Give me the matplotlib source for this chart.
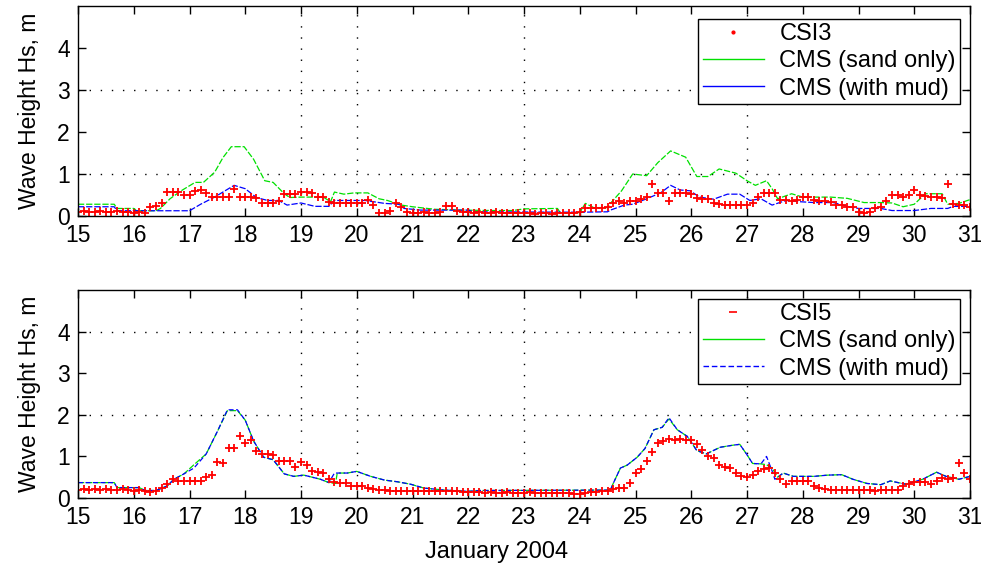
import numpy as np
import matplotlib
matplotlib.use("Agg")
import matplotlib.pyplot as plt
from matplotlib.lines import Line2D

plt.rcParams['font.family'] = ['Liberation Sans', 'DejaVu Sans']

# ---------------- data ----------------
obs_days = np.round(np.arange(15.0, 31.05, 0.1), 1)

csi3 = [0.1, 0.12, 0.1, 0.1, 0.12, 0.1, 0.1, 0.12, 0.1, 0.1,
        0.08, 0.1, 0.08, 0.22, 0.24, 0.3, 0.57, 0.57, 0.57, 0.5,
        0.5, 0.6, 0.62, 0.55, 0.45, 0.45, 0.45, 0.45, 0.65, 0.45,
        0.45, 0.45, 0.42, 0.32, 0.32, 0.32, 0.35, 0.52, 0.52, 0.52,
        0.57, 0.57, 0.55, 0.45, 0.45, 0.33, 0.32, 0.32, 0.3, 0.32,
        0.32, 0.3, 0.39, 0.25, 0.08, 0.08, 0.12, 0.32, 0.22, 0.1,
        0.08, 0.08, 0.1, 0.08, 0.08, 0.1, 0.23, 0.23, 0.12, 0.1,
        0.1, 0.08, 0.1, 0.08, 0.08, 0.1, 0.07, 0.08, 0.07, 0.08,
        0.08, 0.07, 0.05, 0.06, 0.08, 0.05, 0.07, 0.06, 0.08, 0.07,
        0.1, 0.18, 0.2, 0.2, 0.2, 0.22, 0.32, 0.35, 0.32, 0.35,
        0.35, 0.4, 0.45, 0.75, 0.55, 0.55, 0.35, 0.55, 0.55, 0.55,
        0.52, 0.42, 0.4, 0.4, 0.3, 0.28, 0.26, 0.25, 0.25, 0.25,
        0.25, 0.3, 0.45, 0.55, 0.55, 0.55, 0.38, 0.38, 0.35, 0.38,
        0.45, 0.45, 0.38, 0.35, 0.35, 0.33, 0.25, 0.25, 0.22, 0.22,
        0.1, 0.08, 0.1, 0.2, 0.22, 0.35, 0.5, 0.5, 0.45, 0.5,
        0.62, 0.5, 0.48, 0.45, 0.45, 0.42, 0.75, 0.28, 0.25, 0.25,
        0.22]

csi5 = [0.2, 0.22, 0.2, 0.22, 0.2, 0.22, 0.2, 0.2, 0.22, 0.2,
        0.18, 0.2, 0.18, 0.15, 0.18, 0.25, 0.33, 0.45, 0.42, 0.41,
        0.4, 0.42, 0.42, 0.5, 0.56, 0.87, 0.83, 1.2, 1.2, 1.5,
        1.33, 1.4, 1.14, 1.06, 1.06, 1.04, 0.9, 0.9, 0.88, 0.75,
        0.87, 0.8, 0.65, 0.62, 0.6, 0.45, 0.38, 0.35, 0.35, 0.3,
        0.29, 0.28, 0.25, 0.22, 0.2, 0.2, 0.18, 0.18, 0.18, 0.18,
        0.18, 0.17, 0.18, 0.17, 0.17, 0.18, 0.17, 0.16, 0.17, 0.15,
        0.15, 0.14, 0.14, 0.13, 0.14, 0.13, 0.12, 0.14, 0.12, 0.13,
        0.12, 0.14, 0.12, 0.13, 0.12, 0.13, 0.12, 0.12, 0.13, 0.1,
        0.1, 0.12, 0.15, 0.15, 0.17, 0.18, 0.22, 0.25, 0.25, 0.37,
        0.6, 0.7, 0.9, 1.1, 1.33, 1.38, 1.41, 1.4, 1.42, 1.4,
        1.4, 1.3, 1.15, 1.02, 0.95, 0.8, 0.75, 0.72, 0.6, 0.52,
        0.5, 0.55, 0.64, 0.7, 0.73, 0.6, 0.45, 0.33, 0.4, 0.41,
        0.41, 0.4, 0.3, 0.25, 0.22, 0.2, 0.19, 0.2, 0.19, 0.19,
        0.19, 0.2, 0.19, 0.18, 0.19, 0.2, 0.19, 0.2, 0.3, 0.33,
        0.38, 0.39, 0.39, 0.33, 0.4, 0.47, 0.45, 0.47, 0.85, 0.6,
        0.45]

# top panel model (CSI3)
sand3_days = [15.0, 15.65, 15.7, 16.0, 16.05, 16.4, 16.48, 16.65, 16.85, 17.1,
              17.25, 17.45, 17.6, 17.75, 17.98, 18.15, 18.35, 18.5, 18.7, 18.8,
              19.0, 19.4, 19.53, 19.6, 19.77, 19.95, 20.2, 20.4, 20.55, 20.8,
              21.0, 21.4, 21.9, 22.45, 22.8, 23.0, 23.6, 23.65, 24.0, 24.1,
              24.25, 24.5, 24.55, 24.75, 24.95, 25.2, 25.4, 25.63, 25.9, 26.1,
              26.3, 26.5, 26.8, 27.0, 27.15, 27.35, 27.45, 27.55, 27.8, 28.0,
              28.2, 28.5, 28.8, 29.1, 29.4, 29.6, 29.8, 30.0, 30.2, 30.5,
              30.6, 30.8, 31.0]
sand3 = [0.28, 0.28, 0.18, 0.18, 0.125, 0.125, 0.18, 0.41, 0.6, 0.8,
         0.8, 1.04, 1.39, 1.65, 1.65, 1.35, 0.84, 0.8, 0.53, 0.44,
         0.45, 0.45, 0.34, 0.57, 0.52, 0.55, 0.55, 0.41, 0.37, 0.26,
         0.22, 0.16, 0.14, 0.13, 0.13, 0.17, 0.18, 0.08, 0.08, 0.3,
         0.2, 0.2, 0.3, 0.6, 1.0, 0.96, 1.27, 1.55, 1.4, 0.94,
         0.94, 1.12, 1.02, 0.84, 0.73, 0.84, 0.65, 0.41, 0.53, 0.45,
         0.45, 0.45, 0.42, 0.32, 0.32, 0.31, 0.22, 0.28, 0.53, 0.53,
         0.28, 0.3, 0.39]

mud3_days = [15.0, 15.65, 15.7, 16.5, 17.0, 17.2, 17.45, 17.7, 17.8, 18.0,
             18.2, 18.4, 18.6, 18.75, 19.0, 19.25, 19.5, 19.6, 20.15, 20.5,
             20.75, 20.85, 21.15, 22.0, 22.1, 24.0, 24.5, 24.55, 24.8, 24.95,
             25.2, 25.45, 25.63, 25.8, 25.98, 26.15, 26.4, 26.65, 26.87, 27.05,
             27.25, 27.45, 27.7, 27.95, 28.2, 28.55, 28.8, 29.0, 29.4, 29.6,
             30.0, 30.3, 30.6, 30.7, 31.0]
mud3 = [0.22, 0.22, 0.125, 0.125, 0.125, 0.28, 0.45, 0.65, 0.73, 0.65,
        0.44, 0.37, 0.37, 0.26, 0.31, 0.23, 0.23, 0.37, 0.37, 0.3,
        0.28, 0.18, 0.14, 0.14, 0.1, 0.09, 0.1, 0.14, 0.26, 0.28,
        0.41, 0.55, 0.73, 0.62, 0.6, 0.45, 0.4, 0.52, 0.52, 0.37,
        0.41, 0.26, 0.37, 0.34, 0.32, 0.32, 0.23, 0.18, 0.18, 0.13,
        0.13, 0.18, 0.18, 0.23, 0.23]

# bottom panel model (CSI5)
mud5_days = [15.0, 15.65, 15.7, 16.1, 16.2, 16.4, 16.6, 16.72, 16.9, 17.08,
             17.3, 17.5, 17.68, 17.86, 18.0, 18.15, 18.33, 18.5, 18.7, 18.87,
             19.05, 19.35, 19.5, 19.6, 19.83, 20.0, 20.25, 20.5, 20.73, 20.97,
             21.2, 21.57, 22.0, 22.2, 24.55, 24.6, 24.73, 24.85, 25.03, 25.17,
             25.33, 25.48, 25.6, 25.75, 25.93, 26.1, 26.27, 26.52, 26.75, 26.87,
             27.0, 27.1, 27.25, 27.35, 27.45, 27.5, 27.65, 27.83, 28.2, 28.45,
             28.7, 28.9, 29.15, 29.4, 29.57, 29.85, 30.15, 30.4, 30.57, 30.8,
             31.0]
mud5 = [0.37, 0.37, 0.25, 0.25, 0.18, 0.18, 0.29, 0.45, 0.58, 0.72,
        1.06, 1.6, 2.12, 2.12, 1.87, 1.37, 0.98, 0.92, 0.58, 0.52,
        0.55, 0.45, 0.37, 0.6, 0.6, 0.64, 0.52, 0.43, 0.39, 0.33,
        0.24, 0.19, 0.16, 0.18, 0.19, 0.35, 0.72, 0.79, 0.98, 1.19,
        1.64, 1.7, 1.93, 1.64, 1.48, 1.14, 1.06, 1.22, 1.27, 1.29,
        1.04, 0.83, 0.82, 1.0, 0.65, 0.45, 0.6, 0.52, 0.52, 0.55,
        0.56, 0.45, 0.35, 0.32, 0.41, 0.33, 0.45, 0.62, 0.52, 0.45,
        0.52]

sand5_days = [15.0, 15.65, 15.7, 16.1, 16.2, 16.4, 16.6, 16.72, 16.9, 17.08,
              17.3, 17.5, 17.68, 17.86, 18.0, 18.15, 18.33, 18.5, 18.7, 18.87,
              19.05, 19.35, 19.5, 19.62, 19.65, 19.83, 20.0, 20.25, 20.5, 20.73,
              20.97, 21.2, 21.57, 22.0, 22.2, 24.55, 24.6, 24.73, 24.85, 25.03,
              25.17, 25.33, 25.48, 25.6, 25.75, 25.93, 26.1, 26.27, 26.52, 26.75,
              26.87, 27.0, 27.1, 27.25, 27.35, 27.45, 27.55, 27.65, 27.83, 28.2,
              28.45, 28.7, 28.9, 29.15, 29.4, 29.57, 29.85, 30.15, 30.4, 30.57,
              30.8, 31.0]
sand5 = [0.37, 0.37, 0.25, 0.25, 0.18, 0.18, 0.29, 0.45, 0.58, 0.8,
         1.06, 1.6, 2.1, 2.1, 1.87, 1.37, 0.98, 0.92, 0.58, 0.52,
         0.55, 0.45, 0.37, 0.35, 0.6, 0.6, 0.64, 0.52, 0.43, 0.39,
         0.33, 0.24, 0.19, 0.16, 0.18, 0.19, 0.35, 0.72, 0.79, 0.98,
         1.19, 1.64, 1.7, 1.9, 1.64, 1.48, 1.14, 1.06, 1.22, 1.27,
         1.29, 1.04, 0.83, 0.82, 0.8, 0.72, 0.5, 0.6, 0.52, 0.52,
         0.55, 0.56, 0.45, 0.35, 0.32, 0.41, 0.33, 0.45, 0.62, 0.52,
         0.45, 0.52]

x_ticks = list(range(15, 32))
y_ticks = [0, 1, 2, 3, 4]

# ---------------- figure ----------------
fig = plt.figure(figsize=(9.81, 5.77), dpi=100)
ax1 = fig.add_axes([78/981, 1-216/577, 892/981, 210/577])
ax2 = fig.add_axes([78/981, 1-498/577, 892/981, 208/577])

RED, GREEN, BLUE = '#ff0000', '#00e000', '#0000ff'
LINE_STYLE = (0, (5, 1.5))

def style(ax, xgrid_show, ygrid_show):
    ax.set_xlim(15, 31)
    ax.set_ylim(0, 5)
    ax.set_xticks(x_ticks)
    ax.set_yticks(y_ticks)
    ax.tick_params(direction='in', length=6, width=1, top=True, right=True,
                   labelsize=16.5, colors='black')
    ax.tick_params(axis='x', pad=6)
    ax.tick_params(axis='y', pad=6)
    for s in ax.spines.values():
        s.set_linewidth(1.0)
        s.set_color('black')
    ax.grid(True, color='black', linestyle=(0, (1, 7)), linewidth=1.0)
    for t, gl in zip(ax.get_xticks(), ax.get_xgridlines()):
        gl.set_visible(int(round(t)) in xgrid_show)
    for t, gl in zip(ax.get_yticks(), ax.get_ygridlines()):
        gl.set_visible(int(round(t)) in ygrid_show)
    ax.set_ylabel('Wave Height Hs, m', fontsize=16.5)
    ax.yaxis.set_label_coords(-0.041, 0.5)

def legend(ax, handles, labels, top):
    leg = ax.legend(handles, labels, loc='upper right', bbox_to_anchor=(0.989, top),
                    borderaxespad=0, fontsize=17, fancybox=False, framealpha=1,
                    edgecolor='black', handlelength=2.6, handletextpad=0.65,
                    labelspacing=0.22, borderpad=0.18)
    leg.get_frame().set_linewidth(1.0)
    return leg

# top panel
ax1.plot(sand3_days, sand3, color=GREEN, lw=0.9, linestyle=LINE_STYLE)
ax1.plot(mud3_days, mud3, color=BLUE, lw=0.9, linestyle=LINE_STYLE)
ax1.plot(obs_days, csi3, linestyle='none', marker='+', ms=6, mew=1.3, color=RED)
style(ax1, [19, 20, 23, 27], [1, 3])
h1 = [Line2D([], [], linestyle='none', marker='.', ms=4, color=RED),
      Line2D([], [], color=GREEN, lw=1),
      Line2D([], [], color=BLUE, lw=1)]
legend(ax1, h1, ['CSI3', 'CMS (sand only)', 'CMS (with mud)'], 0.938)

# bottom panel
ax2.plot(sand5_days, sand5, color=GREEN, lw=0.9, linestyle=LINE_STYLE)
ax2.plot(mud5_days, mud5, color=BLUE, lw=0.9, linestyle=(0, (4, 2)))
ax2.plot(obs_days, csi5, linestyle='none', marker='+', ms=6, mew=1.3, color=RED)
style(ax2, [19, 20, 23, 27], [2, 4])
h2 = [Line2D([], [], linestyle='none', marker='_', ms=6, mew=1.2, color=RED),
      Line2D([], [], color=GREEN, lw=1),
      Line2D([], [], color=BLUE, lw=1, linestyle=(0, (4, 2)))]
legend(ax2, h2, ['CSI5', 'CMS (sand only)', 'CMS (with mud)'], 0.957)

fig.text(497/981, 1-552/577, 'January 2004', ha='center', va='center', fontsize=17)

fig.savefig('out.png', dpi=100, facecolor='white')
